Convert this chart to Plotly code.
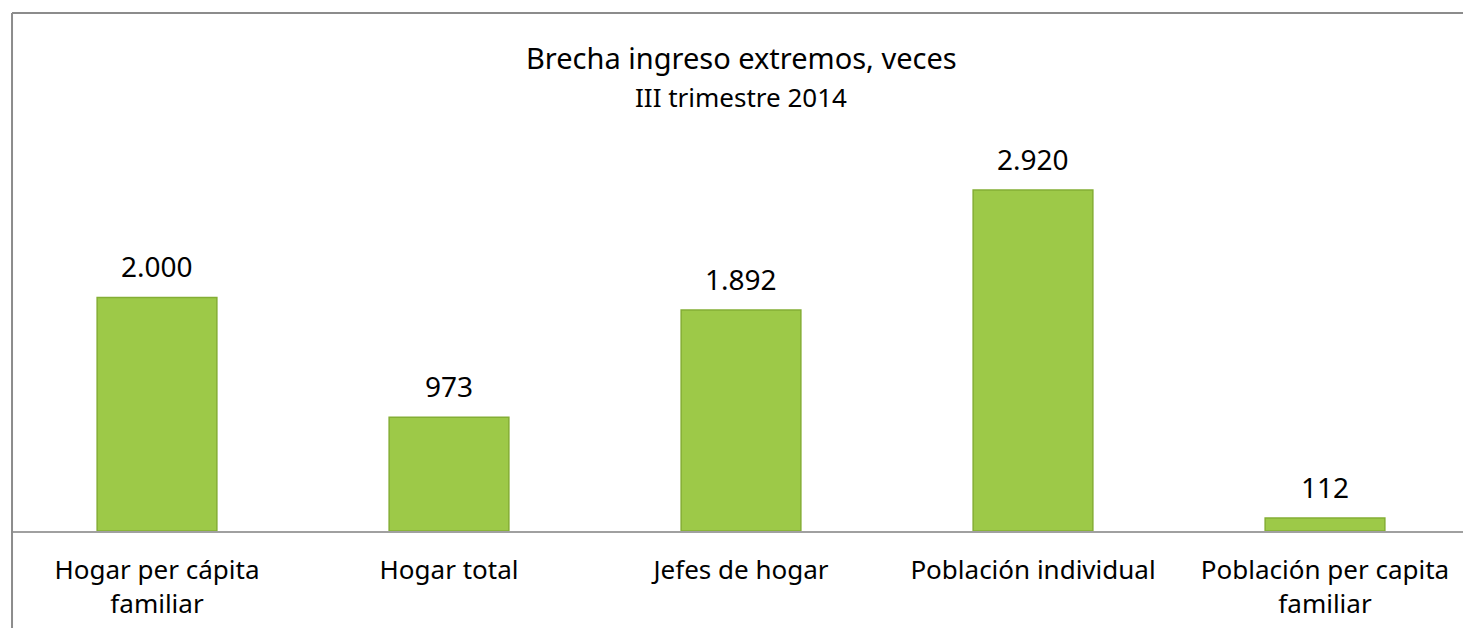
import plotly.graph_objects as go

categories = ["Hogar per cápita<br>familiar", "Hogar total", "Jefes de hogar",
              "Población individual", "Población per capita<br>familiar"]
values = [2000, 973, 1892, 2920, 112]
title_text = "Brecha ingreso extremos, veces"
subtitle_text = "III trimestre 2014"

FONT = "Noto Sans"
OFF = 8  # page body offset

TOP = 13 - OFF
AXIS = 531 - OFF
H = 628

fig = go.Figure()
fig.add_trace(go.Bar(
    x=categories, y=values,
    marker=dict(color="#9DC948", line=dict(color="#84AE34", width=1.5)),
    width=0.41,
    hoverinfo="skip",
))

annotations = []
for c, v in zip(categories, values):
    annotations.append(dict(
        x=c, y=v, xref="x", yref="y", text=f"{v:,}".replace(",", "."),
        showarrow=False, yanchor="bottom", yshift=10,
        font=dict(family=FONT, size=28, color="black")))

plot_h = AXIS - TOP
def py(pix):
    return (531 - pix) / plot_h

annotations.append(dict(x=0.5, y=py(57), xref="paper", yref="paper", text=title_text,
                        showarrow=False, yanchor="middle",
                        font=dict(family=FONT, size=29, color="black")))
annotations.append(dict(x=0.5, y=py(97), xref="paper", yref="paper", text=subtitle_text,
                        showarrow=False, yanchor="middle",
                        font=dict(family=FONT, size=26, color="black")))

fig.update_layout(
    width=1471, height=H,
    margin=dict(l=11 - OFF, r=OFF, t=TOP, b=H - AXIS),
    paper_bgcolor="white", plot_bgcolor="white",
    showlegend=False,
    separators=",.",
    xaxis=dict(showline=True, linecolor="#A0A0A0", linewidth=1.5, ticks="",
               ticklabelstandoff=15,
               tickfont=dict(family=FONT, size=26, color="black"),
               showgrid=False, fixedrange=True),
    yaxis=dict(range=[0, 2920 * plot_h / (531 - 190)], visible=False,
               showgrid=False, fixedrange=True),
    font=dict(family=FONT),
    annotations=annotations,
)

# chart frame (top and left borders)
fig.add_shape(type="line", xref="paper", yref="paper", x0=0.0007, x1=1.01, y0=py(13), y1=py(13),
              line=dict(color="#8C8C8C", width=2))
fig.add_shape(type="line", xref="paper", yref="paper", x0=0.0007, x1=0.0007, y0=py(13), y1=py(640),
              line=dict(color="#8C8C8C", width=2))

fig.write_html("out.html")
